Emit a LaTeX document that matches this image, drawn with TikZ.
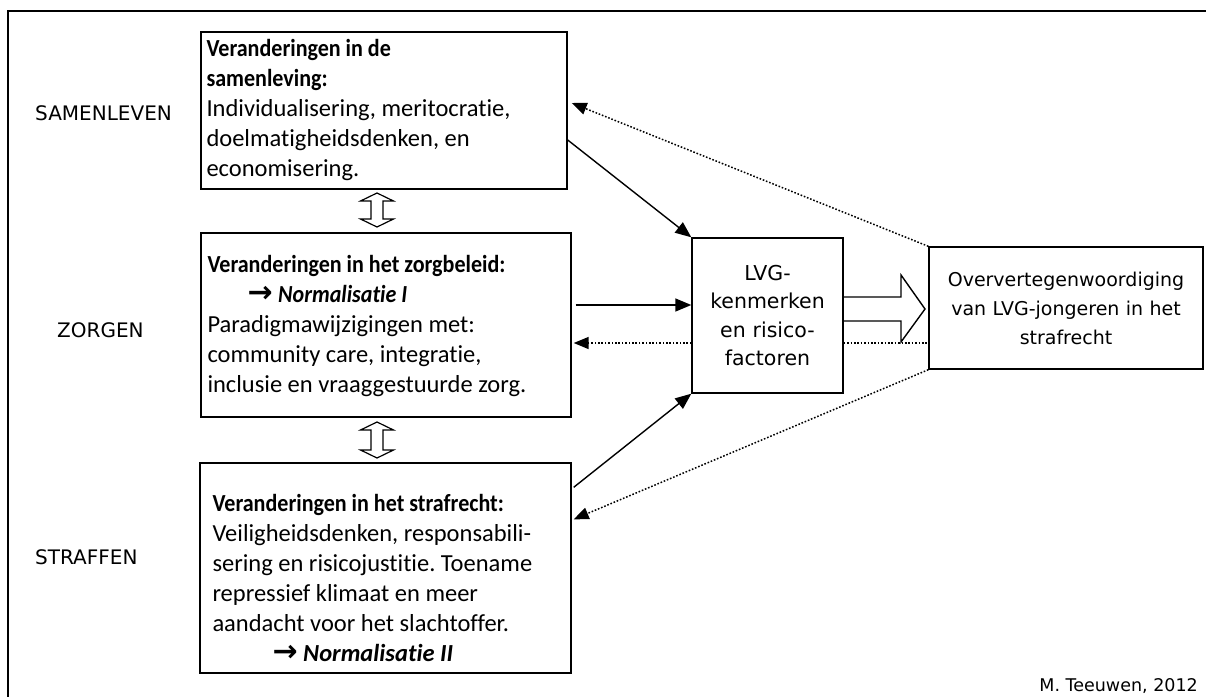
\documentclass[tikz,border=0pt]{standalone}
\usepackage{fontspec}
\setmainfont{Carlito}[Ligatures=NoCommon]
\newfontfamily\kopfont{Carlito}[Ligatures=NoCommon,FakeStretch=0.9]
\newfontfamily\lblfont{DejaVu Sans}
\usetikzlibrary{arrows.meta,calc}
\frenchspacing
\newcommand{\kop}[1]{{\kopfont\bfseries #1}}
\newcommand{\naar}{{\lblfont\bfseries\fontsize{30}{30}\selectfont →}}

\begin{document}
\begin{tikzpicture}[x=1pt,y=-1pt,
    box/.style={draw,line width=1.4pt,inner sep=0pt},
    vak/.style={draw,line width=1.4pt,inner sep=0pt,font=\lblfont\fontsize{19}{29}\selectfont},
    tekst/.style={inner sep=0pt,anchor=west,align=left,font=\fontsize{24.5}{30}\selectfont},
    lbl/.style={inner sep=0pt,anchor=west,font=\lblfont\fontsize{20}{24}\selectfont},
    pijl/.style={line width=1.4pt,-{Triangle[length=16pt,width=13pt]}},
    stip/.style={line width=1.5pt,dash pattern=on 1.6pt off 1.8pt,-{Triangle[length=15pt,width=12pt]}}]
  \useasboundingbox (0,0) rectangle (1206,696);
  \draw[line width=1.4pt] (8,11) rectangle (1214,704);

  % linker kolom
  \node[lbl] (l-samen) at (35,113) {SAMENLEVEN};
  \node[lbl] (l-zorg) at (57,330) {ZORGEN};
  \node[lbl] (l-straf) at (35,557) {STRAFFEN};

  \node[box,minimum width=366,minimum height=157] (samen) at (384,110.5) {};
  \node[tekst] (samen-tekst) at ($(samen.west)+(6,0)$)
    {\kop{Veranderingen in de}\\\kop{samenleving:}\\Individualisering, meritocratie,\\doelmatigheidsdenken, en\\economisering.};
  \node[box,minimum width=370,minimum height=184] (zorg) at (386,325) {};
  \node[tekst] (zorg-tekst) at ($(zorg.west)+(7,1)$)
    {\kop{Veranderingen in het zorgbeleid:}\\\hspace*{40pt}\naar\ \kop{\itshape Normalisatie I}\\Paradigmawijzigingen met:\\community care, integratie,\\inclusie en vraaggestuurde zorg.};
  \node[box,minimum width=371,minimum height=210] (straf) at (385.5,568) {};
  \node[tekst] (straf-tekst) at ($(straf.west)+(13,10)$)
    {\kop{Veranderingen in het strafrecht:}\\Veiligheidsdenken, responsabili-\\sering en risicojustitie. Toename\\repressief klimaat en meer\\aandacht voor het slachtoffer.\\\hspace*{60pt}\naar\ \textbf{\textit{Normalisatie II}}};

  % midden en rechts
  \node[vak,minimum width=151,minimum height=155,text width=145,align=center,font=\lblfont\fontsize{20.5}{28.5}\selectfont] (lvg) at (767.5,315.5)
    {LVG-\\kenmerken\\en risico-\\factoren};
  \node[vak,minimum width=274,minimum height=122,text width=268,align=center] (over) at (1066,308)
    {Oververtegenwoordiging\\van LVG-jongeren in het\\strafrecht};

  % dubbele pijlen
  \foreach \ya/\yb in {193/227,422/458}
    \draw[line width=1.2pt] (377,\ya) -- (393.5,\ya+8) -- (383,\ya+8) -- (383,\yb-8) -- (393.5,\yb-8)
      -- (377,\yb) -- (360.5,\yb-8) -- (371,\yb-8) -- (371,\ya+8) -- (360.5,\ya+8) -- cycle;

  % blokpijl
  \draw[line width=1.4pt] (844,297) -- (901,297) -- (901,275) -- (925,309) -- (901,342) -- (901,321) -- (844,321);

  % verbindingen
  \draw[pijl] ($(samen.east)+(0,29.5)$) -- (lvg.north west);
  \draw[pijl] ($(zorg.east)+(4,-20)$) -- ($(lvg.west)+(0,-10.5)$);
  \draw[pijl] ($(straf.north east)+(2,25)$) -- (lvg.south west);
  \draw[stip] ($(lvg.west)+(0,27.5)$) -- ($(zorg.east)+(2,18)$);
  \draw[stip] (over.north west) -- ($(samen.east)+(4,-7.5)$);
  \draw[stip] (over.south west) -- ($(straf.north east)+(2,57)$);
  \draw[line width=1.5pt,dash pattern=on 1.6pt off 1.8pt] ($(lvg.east)+(0,27.5)$) -- (over.west |- 0,343);

  \node[inner sep=0pt,anchor=east,font=\lblfont\fontsize{17.5}{20}\selectfont] (bron) at (1198,686) {M. Teeuwen, 2012};
\end{tikzpicture}
\end{document}
